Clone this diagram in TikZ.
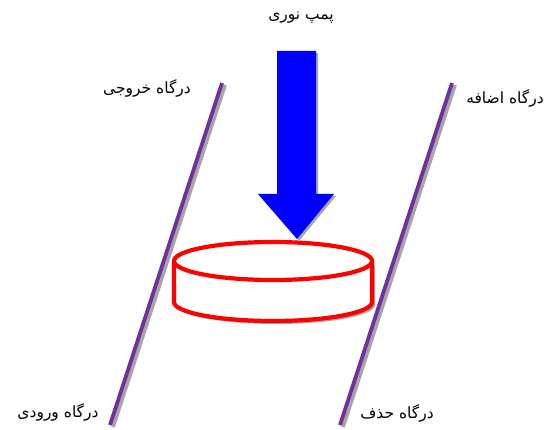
\documentclass[tikz,border=0pt]{standalone}
\usepackage{fontspec}
\newfontfamily\arabicfont[Script=Arabic]{DejaVu Sans}
\TeXXeTstate=1
\usepackage{tikz}
\usetikzlibrary{arrows.meta,positioning}
\usepackage{xcolor}
\definecolor{portpurple}{HTML}{7030A0}
\definecolor{pumpblue}{HTML}{0000FF}
\definecolor{diskred}{HTML}{FF0000}
\definecolor{shadowgray}{HTML}{A6A6A6}

\begin{document}
\begin{tikzpicture}[x=1pt,y=-1pt,
  port/.style={line width=3.8pt,portpurple},
  portshadow/.style={line width=3.8pt,shadowgray},
  label/.style={font=\arabicfont\fontsize{15.5}{18}\selectfont,inner sep=1pt},
  disk/.style={line width=4.2pt,diskred,fill=white,line join=round}]
  \useasboundingbox (0,0) rectangle (555,430);

  \coordinate (outtop) at (222,83);  \coordinate (inbot) at (110,425);
  \coordinate (addtop) at (452,83);  \coordinate (dropbot) at (340,425);
  \draw[portshadow] ([shift={(3,2)}]outtop) -- ([shift={(3,2)}]inbot);
  \draw[portshadow] ([shift={(3,2)}]addtop) -- ([shift={(3,2)}]dropbot);
  \draw[port] (outtop) -- (inbot);
  \draw[port] (addtop) -- (dropbot);

  \fill[shadowgray] (177,264) -- (177,305) arc[start angle=180,end angle=0,x radius=99,y radius=19]
    -- (375,264) arc[start angle=0,end angle=180,x radius=99,y radius=19] -- cycle;
  \draw[disk] (174,261) -- (174,302) arc[start angle=180,end angle=0,x radius=99,y radius=19]
    -- (372,261);
  \draw[disk] (273,261) ellipse[x radius=99,y radius=19];

  \fill[shadowgray] (279,53) -- (318,53) -- (318,196) -- (336,196) -- (299,241) -- (260,196)
    -- (279,196) -- cycle;
  \fill[pumpblue] (277,51) -- (316,51) -- (316,194) -- (334,194) -- (297,239) -- (258,194)
    -- (277,194) -- cycle;

  \node[label] (pump) at (301,18) {\beginR پمپ نوری\endR};
  \node[label] (outport) at (147,88) {\beginR درگاه خروجی\endR};
  \node[label] (addport) at (505,98) {\beginR درگاه اضافه\endR};
  \node[label] (inport) at (58,412) {\beginR درگاه ورودی\endR};
  \node[label] (dropport) at (397,413) {\beginR درگاه حذف\endR};
\end{tikzpicture}
\end{document}
